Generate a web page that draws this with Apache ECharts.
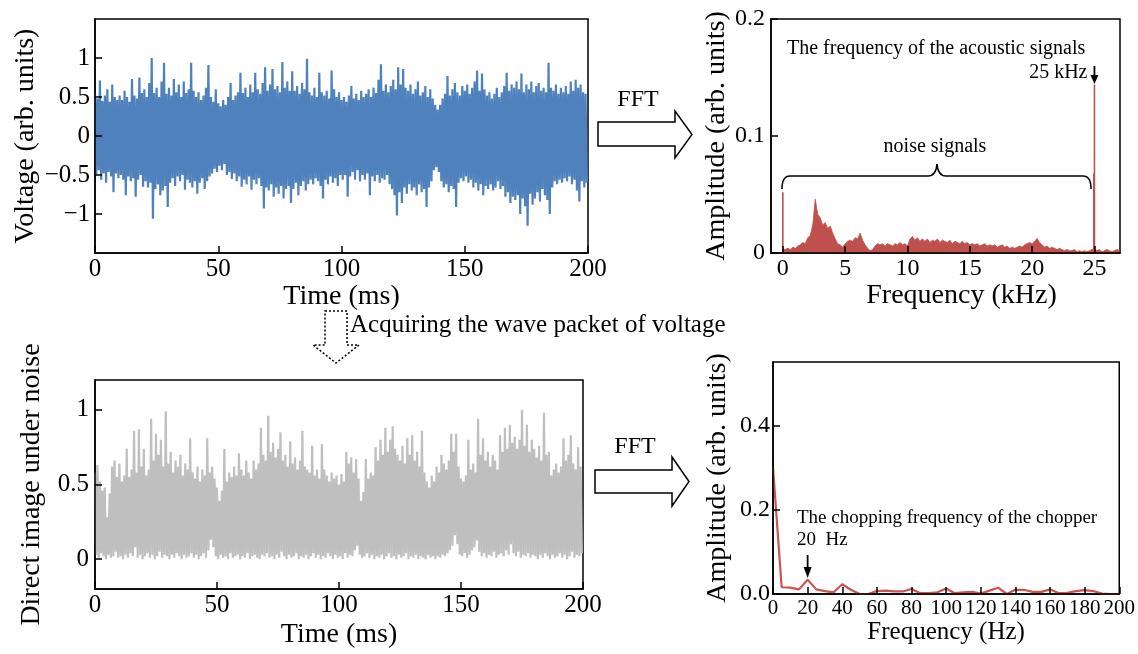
<!DOCTYPE html>
<html><head><meta charset="utf-8">
<script src="https://cdn.jsdelivr.net/npm/echarts@6/dist/echarts.min.js"></script>
<style>html,body{margin:0;padding:0;background:#fff}#c{width:1138px;height:654px}</style>
</head><body><div id="c"></div>
<script>
const FONT = '"Liberation Serif","Times New Roman",serif';

// ---- top-left: voltage vs time (envelope samples, 1 ms step) ----
const timeStep = 1;
const voltUpper = [
0.55,0.48,0.71,0.45,0.52,0.60,0.44,0.66,0.50,0.46,
0.52,0.46,0.58,0.50,0.44,0.73,0.52,0.48,0.75,0.55,
0.60,0.50,0.68,1.00,0.55,0.62,0.50,0.70,0.94,0.54,
0.62,0.52,0.73,0.56,0.66,0.50,0.70,0.55,0.60,0.94,
0.58,0.50,0.56,0.46,0.52,0.62,0.91,0.50,0.44,0.60,
0.42,0.38,0.46,0.40,0.50,0.68,0.46,0.52,0.56,0.81,
0.55,0.62,0.50,0.66,0.56,0.81,0.60,0.54,0.68,0.88,
0.58,0.66,0.86,0.60,0.64,0.56,0.95,0.62,0.70,0.58,
0.83,0.58,0.64,0.54,0.68,0.60,0.99,0.56,0.52,0.62,
0.50,0.81,0.56,0.52,0.58,0.48,0.84,0.60,0.50,0.56,
0.46,0.50,0.44,0.52,0.64,0.48,0.54,0.46,0.58,0.50,
0.54,0.60,0.50,0.62,0.55,0.72,0.92,0.58,0.66,0.56,
0.64,0.72,0.60,0.88,0.66,0.86,0.62,0.58,0.66,0.54,
0.60,0.70,0.52,0.56,0.64,0.50,0.60,0.48,0.40,0.34,
0.40,0.48,0.54,0.77,0.52,0.60,0.68,0.56,0.52,0.64,
0.58,0.66,0.54,0.62,0.70,0.84,0.58,0.80,0.60,0.52,
0.56,0.48,0.54,0.62,0.50,0.56,0.64,0.81,0.58,0.66,
0.62,0.70,0.60,0.80,0.56,0.66,0.60,0.70,0.56,0.64,
0.68,0.58,0.62,0.56,0.94,0.62,0.58,0.66,0.54,0.62,
0.56,0.64,0.54,0.70,0.58,0.72,0.62,0.66,0.56,0.54];
const voltLower = [
-0.50,-0.44,-0.56,-0.48,-0.60,-0.46,-0.52,-0.72,-0.48,-0.54,
-0.50,-0.56,-0.76,-0.52,-0.58,-0.54,-0.78,-0.56,-0.50,-0.65,
-0.58,-0.66,-0.60,-1.06,-0.68,-0.62,-0.76,-0.70,-0.64,-0.91,
-0.60,-0.54,-0.64,-0.52,-0.58,-0.50,-0.69,-0.56,-0.60,-0.66,
-0.58,-0.74,-0.60,-0.54,-0.68,-0.58,-0.52,-0.48,-0.42,-0.46,
-0.38,-0.44,-0.36,-0.50,-0.46,-0.55,-0.48,-0.58,-0.52,-0.65,
-0.56,-0.62,-0.52,-0.69,-0.56,-0.62,-0.54,-0.64,-0.93,-0.66,
-0.70,-0.62,-0.78,-0.66,-0.74,-0.64,-0.80,-0.68,-0.64,-0.86,
-0.68,-0.60,-0.76,-0.64,-0.58,-0.70,-0.62,-0.56,-0.62,-0.54,
-0.58,-0.64,-0.80,-0.56,-0.62,-0.52,-0.60,-0.54,-0.64,-0.50,
-0.56,-0.50,-0.78,-0.52,-0.46,-0.56,-0.44,-0.58,-0.50,-0.56,
-0.48,-0.76,-0.52,-0.58,-0.50,-0.60,-0.54,-0.56,-0.50,-0.62,
-0.68,-0.76,-1.02,-0.72,-0.86,-0.66,-0.74,-0.62,-0.70,-0.66,
-0.76,-0.62,-0.72,-0.68,-0.91,-0.66,-0.58,-0.44,-0.40,-0.46,
-0.58,-0.66,-0.62,-0.72,-0.64,-0.68,-0.91,-0.60,-0.54,-0.58,
-0.52,-0.60,-0.56,-0.66,-0.60,-0.70,-0.62,-0.76,-0.64,-0.68,
-0.62,-0.70,-0.66,-0.58,-0.68,-0.64,-0.78,-0.72,-0.86,-0.78,
-0.82,-0.76,-1.00,-0.80,-0.90,-1.15,-0.74,-0.88,-0.80,-0.72,
-0.84,-0.68,-0.76,-0.82,-1.00,-0.66,-0.58,-0.62,-0.56,-0.60,
-0.54,-0.58,-0.52,-0.62,-0.56,-0.70,-0.84,-0.58,-0.66,-0.60];

// ---- bottom-left: direct image under noise (envelope samples, 1 ms step) ----
const imgUpper = [
0.58,0.63,0.52,0.46,0.48,0.28,0.44,0.62,0.66,0.55,
0.64,0.52,0.56,0.74,0.55,0.60,0.86,0.58,0.87,0.62,
0.74,0.56,0.60,0.94,0.66,0.84,0.70,0.80,0.62,0.99,
0.64,0.72,0.58,0.66,0.62,0.70,0.56,0.64,0.60,0.81,
0.58,0.54,0.62,0.52,0.60,0.56,0.81,0.58,0.62,0.54,
0.48,0.39,0.46,0.74,0.52,0.58,0.55,0.62,0.56,0.71,
0.60,0.56,0.66,0.58,0.54,0.66,0.60,0.64,0.88,0.70,
0.66,0.96,0.72,0.78,0.68,0.74,0.85,0.66,0.70,0.62,
0.79,0.64,0.68,0.60,0.66,0.86,0.62,0.60,0.58,0.76,
0.56,0.60,0.54,0.77,0.60,0.56,0.52,0.58,0.54,0.56,
0.50,0.57,0.52,0.72,0.64,0.68,0.58,0.67,0.54,0.39,
0.45,0.67,0.54,0.58,0.56,0.75,0.66,0.80,0.70,0.88,
0.72,0.80,0.89,0.74,0.70,0.66,0.76,0.64,0.81,0.70,
0.83,0.66,0.72,0.62,0.86,0.58,0.52,0.48,0.56,0.52,
0.62,0.58,0.70,0.64,0.60,0.66,0.84,0.72,0.84,0.62,
0.54,0.52,0.56,0.80,0.60,0.64,0.58,0.94,0.70,0.81,
0.66,0.72,0.62,0.70,0.66,0.60,0.83,0.72,0.88,0.74,
0.90,0.78,0.82,0.74,0.80,1.00,0.76,0.90,0.72,0.80,
0.74,0.68,0.76,0.66,0.98,0.70,0.72,0.56,0.60,0.64,
0.58,0.62,0.81,0.66,0.70,0.83,0.64,0.60,0.75,0.62];
const imgLower = [
0.03,0.01,0.04,0.02,0.00,0.03,0.01,0.02,0.05,0.01,
0.02,0.00,0.03,0.01,0.04,0.02,0.08,0.01,0.03,0.00,
0.02,0.04,0.01,0.03,0.00,0.02,0.05,0.01,0.03,0.02,
0.00,0.03,0.01,0.04,0.02,0.00,0.03,0.01,0.02,0.04,
0.01,0.03,0.00,0.02,0.04,0.01,0.06,0.13,0.08,0.02,
0.00,0.03,0.01,0.02,0.00,0.04,0.01,0.02,0.03,0.00,
0.02,0.01,0.04,0.00,0.02,0.03,0.01,0.00,0.03,0.02,
0.04,0.01,0.02,0.00,0.03,0.01,0.05,0.02,0.00,0.03,
0.01,0.02,0.04,0.00,0.02,0.01,0.03,0.00,0.02,0.04,
0.01,0.03,0.00,0.02,0.01,0.04,0.02,0.00,0.03,0.01,
0.02,0.00,0.04,0.01,0.03,0.02,0.06,0.09,0.03,0.01,
0.02,0.04,0.01,0.03,0.00,0.02,0.01,0.03,0.00,0.02,
0.04,0.01,0.02,0.00,0.03,0.01,0.02,0.04,0.00,0.02,
0.01,0.03,0.00,0.02,0.01,0.00,0.03,0.01,0.02,0.00,
0.02,0.01,0.03,0.02,0.04,0.06,0.09,0.16,0.10,0.03,
0.02,0.04,0.01,0.03,0.06,0.08,0.125,0.05,0.02,0.04,
0.01,0.03,0.02,0.05,0.01,0.03,0.04,0.02,0.06,0.03,
0.10,0.04,0.02,0.05,0.01,0.03,0.02,0.04,0.01,0.03,
0.02,0.00,0.03,0.01,0.04,0.02,0.00,0.03,0.01,0.02,
0.04,0.01,0.03,0.00,0.02,0.05,0.01,0.03,0.02,0.04];

// ---- top-right: FFT spectrum (0.2 kHz step from 0 kHz) ----
const specStep = 0.2;
const specAmp = [
0.003,0.003,0.004,0.003,0.005,0.004,0.006,0.007,0.009,0.008,
0.013,0.015,0.024,0.046,0.033,0.030,0.024,0.026,0.021,0.023,
0.017,0.012,0.008,0.007,0.005,0.008,0.010,0.011,0.010,0.013,
0.012,0.017,0.011,0.007,0.004,0.002,0.003,0.006,0.008,0.007,
0.008,0.006,0.008,0.007,0.006,0.008,0.007,0.009,0.007,0.008,
0.006,0.012,0.014,0.011,0.013,0.010,0.012,0.010,0.012,0.009,
0.011,0.010,0.012,0.009,0.011,0.010,0.009,0.011,0.008,0.010,
0.009,0.008,0.010,0.008,0.009,0.007,0.008,0.007,0.008,0.006,
0.007,0.008,0.006,0.007,0.006,0.007,0.005,0.006,0.007,0.005,
0.006,0.004,0.005,0.004,0.005,0.006,0.005,0.007,0.008,0.009,
0.008,0.010,0.0125,0.009,0.007,0.005,0.006,0.004,0.005,0.004,
0.003,0.004,0.003,0.002,0.003,0.002,0.002,0.003,0.001,0.002,
0.001,0.002,0.001,0.002,0.003,0.004,0.002,0.003,0.001,0.002,
0.003,0.002,0.001,0.002,0.003,0.002];
const peakFreq = [0, 24.95, 25.0];
const peakAmp = [0.052, 0.068, 0.144];

// ---- bottom-right: FFT of image (Hz) ----
const chopFreq = [0,5,10,15,20,25,30,35,40,45,50,55,60,65,70,75,80,85,90,95,100,105,110,115,120,125,130,135,140,145,150,155,160,165,170,175,180,185,190,195,200];
const chopAmp = [0.30,0.016,0.015,0.011,0.034,0.011,0.007,0.004,0.023,0.010,0.0,0.0,0.007,0.008,0.006,0.006,0.012,0.002,0.002,0.004,0.013,0.002,0.004,0.005,0.001,0.008,0.015,0.0,0.010,0.010,0.005,0.005,0.011,0.002,0.003,0.007,0.009,0.007,0.001,0.0,0.0];

// ---- tick values ----
const timeTicks = [0,50,100,150,200];
const voltTicks = [-1,-0.5,0,0.5,1];
const kHzTicks = [0,5,10,15,20,25];
const amp1Ticks = [0,0.1,0.2];
const imgTicks = [0,0.5,1];
const hzTicks = [0,20,40,60,80,100,120,140,160,180,200];
const amp2Ticks = [0,0.2,0.4];

function zigzag(up, lo, step) {
  const d = [];
  for (let i = 0; i < up.length; i++) {
    d.push([i * step, up[i]]);
    d.push([(i + 0.5) * step, lo[i]]);
  }
  return d;
}
const minus = v => String(v).replace('-', '\u2212');

function axis(gi, min, max, ticks, fmt, fs, name, gap, extra) {
  return Object.assign({
    type: 'value', gridIndex: gi, min: min, max: max, z: 5,
    axisLine: { show: true, onZero: false, lineStyle: { color: '#000', width: 1.5 } },
    axisTick: { show: true, inside: true, length: 7, customValues: ticks, lineStyle: { color: '#000', width: 1.5 } },
    axisLabel: { customValues: ticks, formatter: fmt, color: '#000', fontFamily: FONT, fontSize: fs, margin: 4 },
    splitLine: { show: false },
    name: name, nameLocation: 'middle', nameGap: gap,
    nameTextStyle: { color: '#000', fontFamily: FONT, fontSize: 28 }
  }, extra || {});
}

const chart = echarts.init(document.getElementById('c'), null, { renderer: 'canvas' });
const gridStyle = { show: true, borderColor: '#000', borderWidth: 1.5, containLabel: false };

chart.setOption({
  animation: false,
  backgroundColor: '#fff',
  grid: [
    Object.assign({ left: 95, top: 19, width: 493, height: 234 }, gridStyle),
    Object.assign({ left: 771, top: 19, width: 349, height: 234 }, gridStyle),
    Object.assign({ left: 95, top: 380, width: 488, height: 209 }, gridStyle),
    Object.assign({ left: 773, top: 362, width: 347, height: 232 }, gridStyle)
  ],
  xAxis: [
    axis(0, 0, 200, timeTicks, minus, 25, 'Time (ms)', 26),
    axis(1, -0.95, 27.05, kHzTicks, minus, 24, 'Frequency (kHz)', 26,
      { nameTextStyle: { color: '#000', fontFamily: FONT, fontSize: 28, padding: [0, 0, 0, 32] } }),
    axis(2, 0, 200, timeTicks, minus, 25, 'Time (ms)', 32),
    axis(3, 0, 200, hzTicks, minus, 21, 'Frequency (Hz)', 25,
      { nameTextStyle: { color: '#000', fontFamily: FONT, fontSize: 25 } })
  ],
  yAxis: [
    axis(0, -1.5, 1.5, voltTicks, minus, 25, 'Voltage (arb. units)', 55, { axisLabel: { customValues: voltTicks, formatter: minus, color: '#000', fontFamily: FONT, fontSize: 25, margin: 5 } }),
    axis(1, 0, 0.2, amp1Ticks, minus, 24, 'Amplitude (arb. units)', 39, { axisLabel: { customValues: amp1Ticks, formatter: minus, color: '#000', fontFamily: FONT, fontSize: 24, margin: 6 } }),
    axis(2, -0.2, 1.2, imgTicks, minus, 25, 'Direct image under noise', 49, { axisLabel: { customValues: imgTicks, formatter: minus, color: '#000', fontFamily: FONT, fontSize: 25, margin: 6 } }),
    axis(3, 0, 0.55, amp2Ticks, v => Number(v).toFixed(1), 24, 'Amplitude (arb. units)', 41, { axisLabel: { customValues: amp2Ticks, formatter: v => Number(v).toFixed(1), color: '#000', fontFamily: FONT, fontSize: 24, margin: 3 } })
  ],
  series: [
    { type: 'line', xAxisIndex: 0, yAxisIndex: 0, data: zigzag(voltUpper, voltLower, timeStep),
      showSymbol: false, symbol: 'none', lineStyle: { color: '#4F81BD', width: 2.2, join: 'bevel' }, z: 2 },
    { type: 'line', xAxisIndex: 1, yAxisIndex: 1, data: specAmp.map((a, i) => [i * specStep, a]),
      showSymbol: false, symbol: 'none', lineStyle: { color: '#C0504D', width: 0.8 },
      areaStyle: { color: '#C0504D', opacity: 1 }, z: 2 },
    { type: 'bar', xAxisIndex: 1, yAxisIndex: 1, data: peakFreq.map((f, i) => [f, peakAmp[i]]),
      barWidth: 1.6, itemStyle: { color: '#C0504D' }, z: 2 },
    { type: 'line', xAxisIndex: 2, yAxisIndex: 2, data: zigzag(imgUpper, imgLower, timeStep),
      showSymbol: false, symbol: 'none', lineStyle: { color: '#BFBFBF', width: 2.2, join: 'bevel' }, z: 2 },
    { type: 'line', xAxisIndex: 3, yAxisIndex: 3, data: chopFreq.map((f, i) => [f, chopAmp[i]]),
      showSymbol: false, symbol: 'none', lineStyle: { color: '#CD5252', width: 2.2 }, z: 2 }
  ]
});

// annotations anchored to data positions
const p25 = chart.convertToPixel({ xAxisIndex: 1, yAxisIndex: 1 }, [25, 0.144]);
const p20 = chart.convertToPixel({ xAxisIndex: 3, yAxisIndex: 3 }, [20, 0.034]);
const txt = (x, y, s, fs, align) => ({
  type: 'text', x: x, y: y, z: 20,
  style: { text: s, font: fs + 'px ' + FONT, fill: '#000', align: align || 'left', verticalAlign: 'middle', textAlign: align || 'left', textVerticalAlign: 'middle' }
});
const stroke = { stroke: '#000', lineWidth: 1.5, fill: '#fff' };
const braceStyle = { stroke: '#000', lineWidth: 1.5, fill: 'none' };
const curve = (x1, y1, cx, cy, x2, y2) => ({ type: 'bezierCurve', z: 20, shape: { x1: x1, y1: y1, cpx1: cx, cpy1: cy, x2: x2, y2: y2 }, style: braceStyle });
const seg = (x1, y1, x2, y2, w) => ({ type: 'line', z: 20, shape: { x1: x1, y1: y1, x2: x2, y2: y2 }, style: { stroke: '#000', lineWidth: w || 1.5 } });

chart.setOption({
  graphic: [
    txt(638, 100, 'FFT', 24, 'center'),
    { type: 'polygon', z: 20, shape: { points: [[598,122],[675,122],[675,111],[692,134.5],[675,158],[675,146],[598,146]] }, style: stroke },
    txt(635, 447, 'FFT', 24, 'center'),
    { type: 'polygon', z: 20, shape: { points: [[595,470],[672,470],[672,457],[689,481.5],[672,506],[672,493],[595,493]] }, style: stroke },
    { type: 'polygon', z: 20, shape: { points: [[325,311],[347,311],[347,345],[359,345],[336,363],[313,345],[325,345]] },
      style: { stroke: '#000', lineWidth: 1.5, fill: 'none', lineDash: [2, 2] } },
    txt(350, 325, 'Acquiring the wave packet of voltage', 25, 'left'),
    txt(787, 49, 'The frequency of the acoustic signals', 20, 'left'),
    txt(p25[0] - 7, 73, '25 kHz', 20, 'right'),
    seg(p25[0], 66, p25[0], 77, 1.8),
    { type: 'polygon', z: 20, shape: { points: [[p25[0]-4,75],[p25[0]+4,75],[p25[0],84]] }, style: { fill: '#000' } },
    txt(935, 147, 'noise signals', 20, 'center'),
    curve(782, 189, 782, 176, 790, 176),
    seg(790, 176, 928, 176),
    curve(928, 176, 936, 176, 937, 164),
    curve(937, 164, 938, 176, 946, 176),
    seg(946, 176, 1083, 176),
    curve(1083, 176, 1091, 176, 1091, 189),
    txt(797, 518, 'The chopping frequency of the chopper', 19, 'left'),
    txt(797, 540, '20  Hz', 19, 'left'),
    seg(p20[0], 555, p20[0], 569, 1.8),
    { type: 'polygon', z: 20, shape: { points: [[p20[0]-4,567],[p20[0]+4,567],[p20[0],578]] }, style: { fill: '#000' } }
  ]
});
</script></body></html>
